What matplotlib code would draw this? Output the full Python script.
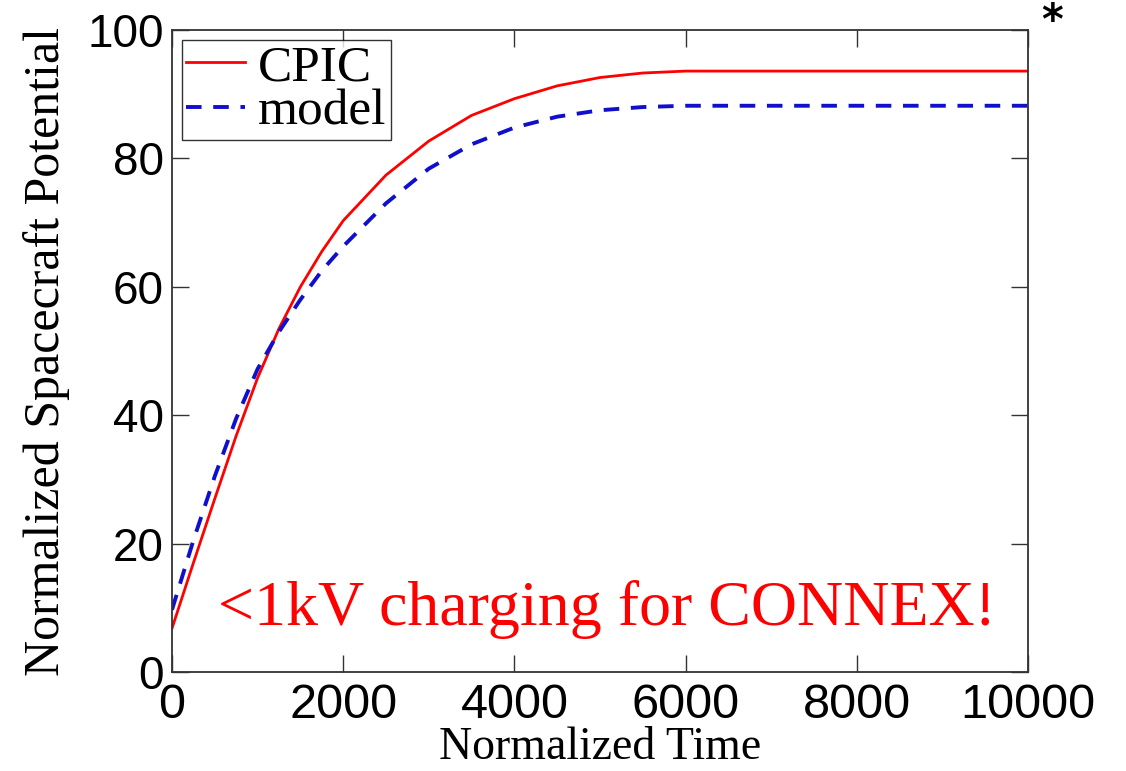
import numpy as np
import matplotlib
matplotlib.use("Agg")
import matplotlib.pyplot as plt

# values
t = [0, 250, 500, 750, 1000, 1250, 1500, 1750, 2000, 2500, 3000, 3500,
     4000, 4500, 5000, 5500, 6000, 7000, 8000, 9000, 10000]
cpic = [6.8, 17.0, 27.0, 36.8, 45.8, 53.5, 60.0, 65.5, 70.3, 77.4, 82.7, 86.7,
        89.3, 91.3, 92.6, 93.3, 93.6, 93.6, 93.6, 93.6, 93.6]
model = [9.7, 20.5, 30.5, 39.5, 47.2, 53.0, 58.0, 62.5, 66.3, 73.0, 78.4, 82.2,
         84.8, 86.5, 87.5, 88.0, 88.2, 88.2, 88.2, 88.2, 88.2]

xticks = [0, 2000, 4000, 6000, 8000, 10000]
yticks = [0, 20, 40, 60, 80, 100]

fig = plt.figure(figsize=(11.26, 7.71), dpi=100)
ax = fig.add_axes([172/1126, 1-672/771, 856/1126, 642/771])

ax.plot(t, cpic, color='#ff0000', lw=2.0, label='CPIC')
ax.plot(t, model, color='#1010cc', lw=2.8, ls=(0, (4, 3)), label='model')

ax.set_xlim(0, 10000)
ax.set_ylim(0, 100)
ax.set_xticks(xticks)
ax.set_yticks(yticks)
ax.tick_params(direction='in', length=12, width=1, top=True, right=True,
               color='#333333')
ax.tick_params(axis='x', pad=8)
ax.tick_params(axis='y', pad=6)
for lab in ax.get_xticklabels():
    lab.set_fontfamily('Liberation Sans')
    lab.set_fontsize(35)
for lab in ax.get_yticklabels():
    lab.set_fontfamily('Liberation Sans')
    lab.set_fontsize(33)
for s in ax.spines.values():
    s.set_color('#333333')
    s.set_linewidth(1.3)

ax.set_xlabel('Normalized Time', family='Liberation Serif', fontsize=33, labelpad=-1)
ax.set_ylabel('Normalized Spacecraft Potential', family='Liberation Serif',
              fontsize=36, labelpad=12)

leg = ax.legend(loc='upper left', prop={'family': 'Liberation Serif', 'size': 37},
                frameon=True, fancybox=False, handlelength=1.15, handletextpad=0.25,
                borderpad=0.08, labelspacing=-0.05, borderaxespad=0.2)
leg.get_frame().set_edgecolor('black')
leg.get_frame().set_linewidth(1.0)

ax.text(0.054, 0.073, '<1kV charging for CONNEX!', transform=ax.transAxes,
        color='#ff0000', family='Liberation Serif', fontsize=46, va='baseline')

fig.text(1052/1126, 1-22/771, '*', family='DejaVu Sans', fontsize=30,
         ha='center', va='center', weight='bold')

fig.savefig('out.png', dpi=100)
